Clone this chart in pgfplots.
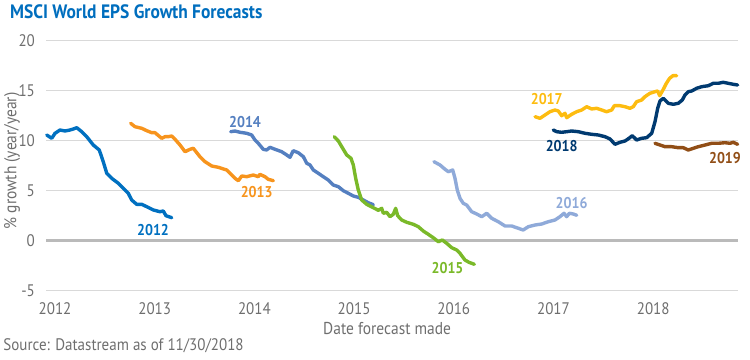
\documentclass[border=0pt]{standalone}
\usepackage{fontspec}
\setmainfont{PT Sans}[FakeStretch=0.9]
\usepackage{pgfplots}
\pgfplotsset{compat=1.18}
\definecolor{cA}{RGB}{0,112,192}
\definecolor{cB}{RGB}{247,148,29}
\definecolor{cC}{RGB}{84,127,192}
\definecolor{cD}{RGB}{122,185,41}
\definecolor{cE}{RGB}{143,170,217}
\definecolor{cF}{RGB}{253,188,16}
\definecolor{cG}{RGB}{0,58,112}
\definecolor{cH}{RGB}{145,78,22}
\definecolor{titleblue}{RGB}{0,110,190}
\definecolor{ticgray}{RGB}{110,110,110}
\begin{document}
\begin{tikzpicture}
\path[use as bounding box] (0,0) rectangle (375pt,179.5pt);
\begin{axis}[
  at={(23pt,34.15pt)}, anchor=south west,
  scale only axis, width=346pt, height=125pt,
  xmin=2011.9097, xmax=2018.8506, ymin=-5, ymax=20,
  xtick={2012,2013,2014,2015,2016,2017,2018},
  xticklabels={2012,2013,2014,2015,2016,2017,2018},
  ytick={-5,0,5,10,15,20},
  /pgf/number format/assume math mode=true,
  ticklabel style={font=\fontsize{8.35}{10}\selectfont, text=ticgray},
  xticklabel style={yshift=-2.3pt},
  yticklabel style={xshift=-2pt},
  axis line style={draw=none},
  major tick length=0pt,
  ymajorgrids,
  grid style={draw=black!15, line width=0.6pt},
  extra y ticks={0}, extra y tick labels={},
  extra y tick style={grid style={draw=black!27, line width=1.4pt}},
  xlabel={Date forecast made},
  ylabel={\% growth (year/year)},
  label style={font=\fontsize{8.6}{10}\selectfont, text=ticgray},
  xlabel style={at={(axis description cs:0.493,-0.153)}, anchor=center},
  ylabel style={at={(axis description cs:-0.049,0.519)}, anchor=center, rotate=0},
  every axis plot/.append style={line width=1.7pt, line join=round, line cap=round},
  clip=false,
]
% 2012
\addplot[cA] coordinates {
(2011.917,10.57)(2011.967,10.24)(2012.000,10.74)(2012.050,11.07)(2012.100,10.97)(2012.150,11.07)(2012.184,11.17)(2012.218,11.30)(2012.268,10.90)(2012.318,10.40)(2012.384,9.57)(2012.444,9.07)(2012.484,7.90)(2012.519,6.74)(2012.569,6.24)(2012.635,5.74)(2012.702,5.07)(2012.735,4.74)(2012.769,4.07)(2012.819,3.64)(2012.870,3.64)(2012.920,3.40)(2012.986,3.07)(2013.053,2.90)(2013.086,2.97)(2013.113,2.50)(2013.171,2.30)};
% 2013
\addplot[cB] coordinates {
(2012.759,11.74)(2012.802,11.40)(2012.870,11.24)(2012.920,11.00)(2012.970,10.80)(2013.003,10.80)(2013.070,10.24)(2013.103,10.40)(2013.136,10.40)(2013.171,10.47)(2013.204,10.14)(2013.254,9.57)(2013.304,8.90)(2013.354,9.14)(2013.387,9.24)(2013.454,8.40)(2013.505,7.90)(2013.572,7.47)(2013.638,7.34)(2013.722,7.07)(2013.772,6.57)(2013.805,6.24)(2013.839,6.00)(2013.873,6.47)(2013.923,6.40)(2013.989,6.57)(2014.039,6.40)(2014.055,6.64)(2014.106,6.40)(2014.139,6.14)(2014.190,6.00)};
% 2014
\addplot[cC] coordinates {
(2013.762,10.90)(2013.805,10.97)(2013.856,10.84)(2013.923,10.74)(2013.973,10.57)(2014.006,10.07)(2014.039,9.74)(2014.089,9.14)(2014.123,9.07)(2014.156,9.34)(2014.207,9.14)(2014.274,8.90)(2014.324,8.57)(2014.357,8.34)(2014.390,9.00)(2014.440,8.80)(2014.491,8.40)(2014.525,7.74)(2014.558,7.57)(2014.591,7.07)(2014.641,6.74)(2014.691,6.40)(2014.741,6.07)(2014.791,5.57)(2014.842,5.40)(2014.892,5.00)(2014.942,4.74)(2014.992,4.47)(2015.042,4.34)(2015.092,4.07)(2015.142,3.80)(2015.193,3.60)};
% 2015
\addplot[cD] coordinates {
(2014.801,10.40)(2014.842,9.97)(2014.876,9.40)(2014.926,8.57)(2014.969,8.24)(2014.992,7.57)(2015.016,6.24)(2015.042,5.07)(2015.076,4.07)(2015.126,3.64)(2015.193,3.30)(2015.243,3.04)(2015.277,3.24)(2015.293,2.74)(2015.327,2.84)(2015.360,2.40)(2015.393,2.64)(2015.417,3.24)(2015.437,2.50)(2015.477,2.07)(2015.528,1.84)(2015.594,1.64)(2015.644,1.40)(2015.694,0.97)(2015.744,0.64)(2015.794,0.30)(2015.845,-0.10)(2015.885,0.07)(2015.929,-0.26)(2015.979,-0.70)(2016.029,-0.93)(2016.062,-1.26)(2016.112,-1.93)(2016.152,-2.16)(2016.206,-2.36)};
% 2016
\addplot[cE] coordinates {
(2015.801,7.90)(2015.862,7.57)(2015.912,7.14)(2015.945,6.90)(2015.989,7.07)(2016.012,6.24)(2016.035,5.07)(2016.062,4.24)(2016.095,3.74)(2016.129,3.57)(2016.179,2.90)(2016.230,2.67)(2016.280,2.40)(2016.330,2.74)(2016.380,2.24)(2016.446,1.90)(2016.514,1.47)(2016.581,1.47)(2016.647,1.24)(2016.697,1.07)(2016.747,1.40)(2016.815,1.57)(2016.882,1.67)(2016.948,1.90)(2017.015,2.07)(2017.065,2.40)(2017.105,2.74)(2017.132,2.40)(2017.159,2.74)(2017.199,2.67)(2017.233,2.54)};
% 2017
\addplot[cF] coordinates {
(2016.815,12.40)(2016.865,12.24)(2016.915,12.57)(2016.965,12.90)(2017.015,13.07)(2017.048,12.97)(2017.082,12.50)(2017.115,12.74)(2017.132,12.30)(2017.182,12.64)(2017.233,12.90)(2017.283,13.07)(2017.333,13.40)(2017.383,13.17)(2017.433,13.24)(2017.483,13.07)(2017.533,12.90)(2017.584,13.07)(2017.610,13.50)(2017.667,13.50)(2017.717,13.40)(2017.767,13.24)(2017.800,13.40)(2017.834,13.90)(2017.884,14.07)(2017.917,14.40)(2017.967,14.74)(2018.018,14.90)(2018.045,14.97)(2018.065,14.50)(2018.098,15.07)(2018.132,15.74)(2018.165,16.24)(2018.198,16.50)(2018.236,16.50)};
% 2018
\addplot[cG] coordinates {
(2016.998,11.07)(2017.032,10.90)(2017.082,10.84)(2017.132,10.90)(2017.182,10.97)(2017.249,10.90)(2017.316,10.74)(2017.383,10.64)(2017.449,10.57)(2017.517,10.40)(2017.567,10.17)(2017.617,9.64)(2017.667,9.84)(2017.717,9.97)(2017.757,10.24)(2017.790,10.50)(2017.834,10.07)(2017.884,10.24)(2017.934,10.30)(2017.985,10.74)(2018.018,11.90)(2018.045,13.24)(2018.068,13.97)(2018.101,14.24)(2018.151,13.74)(2018.201,13.64)(2018.252,13.74)(2018.292,14.07)(2018.319,14.57)(2018.352,14.90)(2018.386,14.97)(2018.436,15.24)(2018.486,15.40)(2018.553,15.50)(2018.603,15.74)(2018.653,15.74)(2018.703,15.84)(2018.753,15.74)(2018.803,15.64)(2018.847,15.57)};
% 2019
\addplot[cH] coordinates {
(2018.018,9.74)(2018.068,9.57)(2018.118,9.40)(2018.186,9.40)(2018.252,9.30)(2018.302,9.30)(2018.352,9.07)(2018.402,9.24)(2018.452,9.40)(2018.520,9.57)(2018.587,9.74)(2018.653,9.74)(2018.720,9.80)(2018.770,9.74)(2018.803,9.84)(2018.847,9.64)};
\begin{scope}[every node/.style={font=\fontsize{7.8}{9}\selectfont\bfseries}]
\node[text=cA] at (axis cs:2012.983,1.07) {2012};
\node[text=cB] at (axis cs:2014.023,4.90) {2013};
\node[text=cC] at (axis cs:2013.906,11.90) {2014};
\node[text=cD] at (axis cs:2015.937,-2.70) {2015};
\node[text=cE] at (axis cs:2017.182,3.74) {2016};
\node[text=cF] at (axis cs:2016.932,14.17) {2017};
\node[text=cG] at (axis cs:2017.082,9.50) {2018};
\node[text=cH] at (axis cs:2018.720,8.30) {2019};
\end{scope}
\end{axis}
\node[anchor=west, text=titleblue, font=\fontsize{9.7}{11}\selectfont\bfseries] at (1.5pt,173.5pt) {MSCI World EPS Growth Forecasts};
\node[anchor=west, text=ticgray, font=\fontsize{8.35}{10}\selectfont, inner sep=0pt] at (1.5pt,6.5pt) {Source: Datastream as of 11/30/2018};
\end{tikzpicture}
\end{document}
